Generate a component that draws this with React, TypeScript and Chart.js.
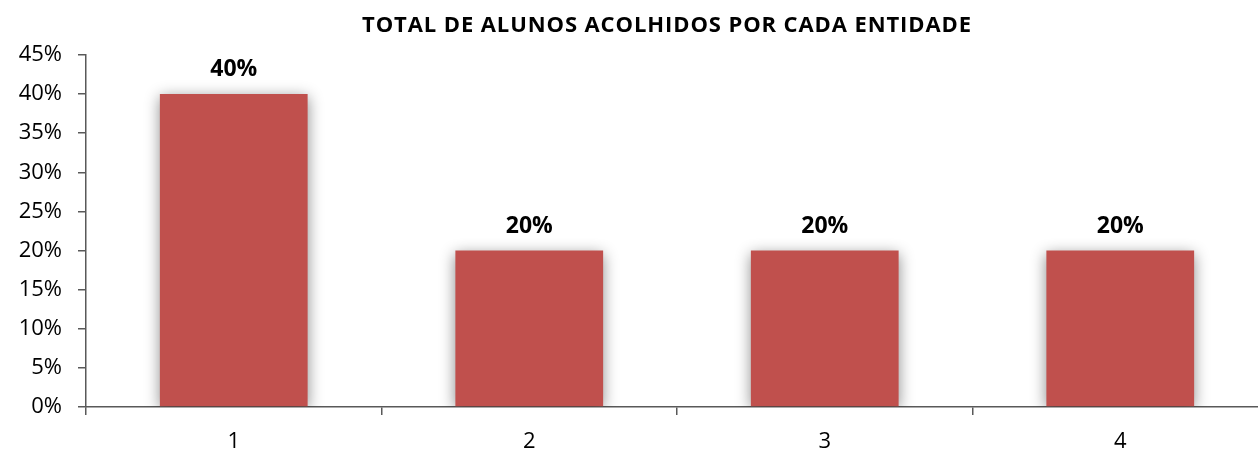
import React, { useEffect, useRef } from "react";
import { Chart, registerables } from "chart.js";

Chart.register(...registerables);

const categories = ["1", "2", "3", "4"];
const values = [40, 20, 20, 20];
const titleText = "TOTAL DE ALUNOS ACOLHIDOS POR CADA ENTIDADE";
const FONT = "'Open Sans', 'Noto Sans', sans-serif";

const shadowPlugin = {
  id: "barShadow",
  beforeDatasetsDraw(chart: any) {
    const ctx = chart.ctx;
    ctx.save();
    ctx.shadowColor = "rgba(0,0,0,0.45)";
    ctx.shadowBlur = 14;
    ctx.shadowOffsetX = 0;
    ctx.shadowOffsetY = 3;
  },
  afterDatasetsDraw(chart: any) {
    chart.ctx.restore();
  },
};

const labelPlugin = {
  id: "valueLabels",
  afterDatasetsDraw(chart: any) {
    const ctx = chart.ctx;
    const meta = chart.getDatasetMeta(0);
    ctx.save();
    ctx.fillStyle = "#000";
    ctx.font = `bold 23px ${FONT}`;
    ctx.textAlign = "center";
    ctx.textBaseline = "alphabetic";
    meta.data.forEach((bar: any, i: number) => {
      ctx.fillText(values[i] + "%", bar.x, bar.y - 18);
    });
    ctx.restore();
  },
};

const titlePlugin = {
  id: "customTitle",
  afterDraw(chart: any) {
    const ctx = chart.ctx;
    ctx.save();
    ctx.fillStyle = "#000";
    ctx.font = `bold 22px ${FONT}`;
    ctx.textAlign = "center";
    ctx.textBaseline = "alphabetic";
    (ctx as any).letterSpacing = "0.9px";
    ctx.fillText(titleText, 667, 32);
    ctx.restore();
  },
};

export default function App() {
  const ref = useRef<HTMLCanvasElement>(null);
  useEffect(() => {
    document.body.style.margin = "0";
    const chart = new Chart(ref.current!, {
      type: "bar",
      data: {
        labels: categories,
        datasets: [
          {
            data: values,
            backgroundColor: "#C0504D",
            borderWidth: 0,
            categoryPercentage: 1,
            barPercentage: 0.5,
          },
        ],
      },
      plugins: [shadowPlugin, labelPlugin, titlePlugin],
      options: {
        animation: false,
        responsive: false,
        maintainAspectRatio: false,
        layout: { padding: { top: 55, right: 2, left: 0, bottom: 0 } },
        plugins: {
          legend: { display: false },
          title: { display: false },
          tooltip: { enabled: false },
        },
        scales: {
          x: {
            offset: true,
            grid: {
              offset: true,
              drawOnChartArea: false,
              drawTicks: true,
              tickLength: 8,
              color: "#595959",
              lineWidth: 1.5,
            },
            border: { color: "#595959", width: 1.5 },
            ticks: {
              color: "#000",
              font: { family: FONT, size: 22 },
              padding: 14,
            },
            afterFit(scale: any) {
              scale.height = 46;
            },
          },
          y: {
            min: 0,
            max: 45,
            grid: {
              drawOnChartArea: false,
              drawTicks: true,
              tickLength: 8,
              color: "#595959",
              lineWidth: 1.5,
            },
            border: { color: "#595959", width: 1.5 },
            ticks: {
              stepSize: 5,
              color: "#000",
              font: { family: FONT, size: 22 },
              padding: 16,
              callback: (v: any) => v + "%",
            },
            afterFit(scale: any) {
              scale.width = 86;
            },
          },
        },
      },
    });
    return () => chart.destroy();
  }, []);
  return (
    <div style={{ width: 1258, height: 453, overflow: "hidden" }}>
      <canvas ref={ref} width={1270} height={453} style={{ display: "block" }} />
    </div>
  );
}
